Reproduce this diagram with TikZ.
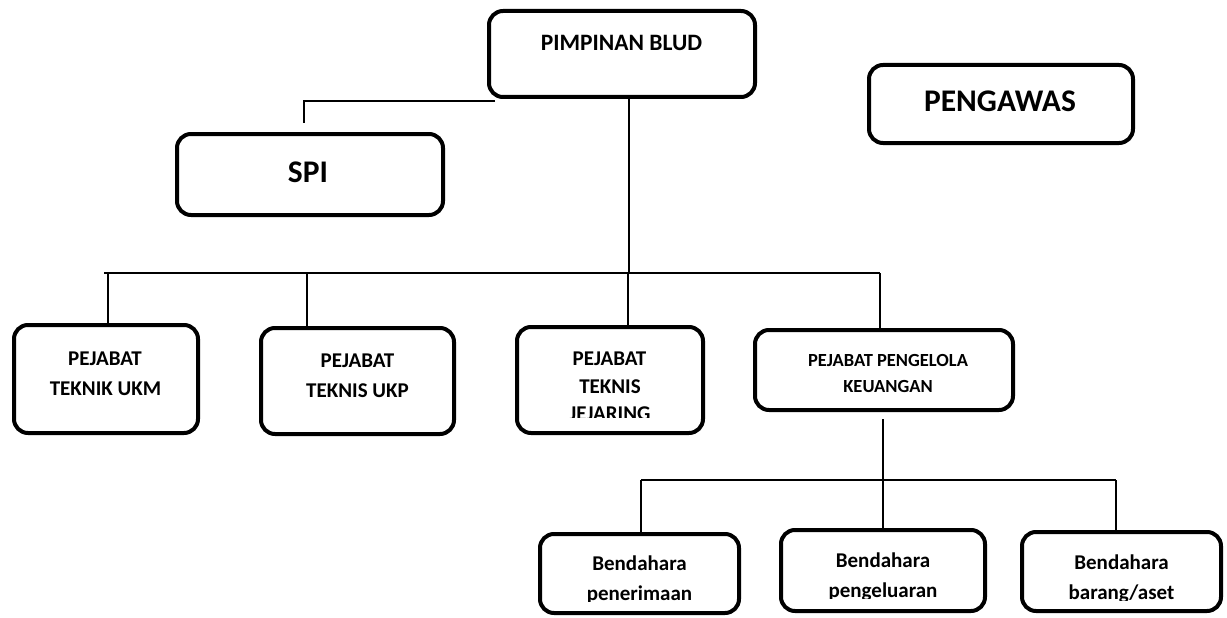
\documentclass[tikz,border=0pt]{standalone}
\usepackage{fontspec}
\setmainfont{Carlito}
\begin{document}
\begin{tikzpicture}[x=1pt,y=-1pt,
  box/.style={draw, line width=4pt, rounded corners=14pt, inner sep=0pt},
  lbl/.style={anchor=base, inner sep=0pt},
  fA/.style={font=\fontsize{23.5}{28}\selectfont\bfseries},
  fB/.style={font=\fontsize{31.5}{38}\selectfont\bfseries},
  fC/.style={font=\fontsize{21}{25}\selectfont\bfseries},
  fD/.style={font=\fontsize{18.5}{22}\selectfont\bfseries},
  conn/.style={line width=1.4pt}]
\useasboundingbox (0,0) rectangle (1227,618);
% boxes
\node[box, minimum width=266pt, minimum height=86pt] (pim) at (622,54) {};
\node[box, minimum width=266pt, minimum height=81pt] (spi) at (310,174.5) {};
\node[box, minimum width=264pt, minimum height=78pt] (pgw) at (1001,104) {};
\node[box, minimum width=184pt, minimum height=108pt] (ukm) at (106,379) {};
\node[box, minimum width=193pt, minimum height=106pt] (ukp) at (357.5,381) {};
\node[box, minimum width=186pt, minimum height=106pt] (jej) at (610,380) {};
\node[box, minimum width=258pt, minimum height=80pt] (pek) at (884,370) {};
\node[box, minimum width=199pt, minimum height=79pt] (b1) at (639.5,573.5) {};
\node[box, minimum width=204pt, minimum height=81pt] (b2) at (883,570.5) {};
\node[box, minimum width=199pt, minimum height=79pt] (b3) at (1121.5,571.5) {};
% labels
\node[lbl, fA] (pimT) at (621.5,51) {PIMPINAN BLUD};
\node[lbl, fB] (spiT) at (308,182) {SPI};
\node[lbl, fB] (pgwT) at (1000,111) {PENGAWAS};
\node[lbl, fC] (ukmT1) at (105,365.5) {PEJABAT};
\node[lbl, fC] (ukmT2) at (105.5,395.5) {TEKNIK UKM};
\node[lbl, fC] (ukpT1) at (357.5,367) {PEJABAT};
\node[lbl, fC] (ukpT2) at (357.5,397) {TEKNIS UKP};
\node[lbl, fC] (jejT1) at (609.5,365.5) {PEJABAT};
\node[lbl, fC] (jejT2) at (610,393) {TEKNIS};
\begin{scope}
\clip (520,400) rectangle (700,417);
\node[lbl, fC] (jejT3) at (610,420.5) {JEJARING};
\end{scope}
\node[lbl, fD] (pekT1) at (888,366) {PEJABAT PENGELOLA};
\node[lbl, fD] (pekT2) at (888,392) {KEUANGAN};
\node[lbl, fC] (b1T1) at (639.5,570) {Bendahara};
\node[lbl, fC] (b2T1) at (883,567) {Bendahara};
\node[lbl, fC] (b3T1) at (1121.5,569) {Bendahara};
\begin{scope}
\clip (545,575) rectangle (735,601);
\node[lbl, fC] (b1T2) at (639.5,600) {penerimaan};
\end{scope}
\begin{scope}
\clip (785,575) rectangle (980,598);
\node[lbl, fC] (b2T2) at (883,597) {pengeluaran};
\end{scope}
\begin{scope}
\clip (1025,575) rectangle (1218,600);
\node[lbl, fC] (b3T2) at (1121.5,599) {barang/aset};
\end{scope}
% connectors
\coordinate (spiEnd) at (304,123);
\coordinate (busL) at (104,273);
\coordinate (busR) at (880,273);
\coordinate (bus2L) at (641,480);
\coordinate (bus2R) at (1116,480);
\draw[conn] ([xshift=8pt,yshift=-2pt]pim.south west) -| (spiEnd);
\draw[conn] ([xshift=7pt]pim.south) -- ([xshift=7pt]pim.south |- busL);
\draw[conn] (busL) -- (busR);
\draw[conn] ([xshift=2pt]ukm.north |- busL) -- ([xshift=2pt]ukm.north);
\draw[conn] ([xshift=-50.5pt]ukp.north |- busL) -- ([xshift=-50.5pt]ukp.north);
\draw[conn] ([xshift=18pt]jej.north |- busL) -- ([xshift=18pt]jej.north);
\draw[conn] ([xshift=-4pt]pek.north |- busR) -- ([xshift=-4pt]pek.north);
\draw[conn] ([xshift=-1pt,yshift=-7pt]pek.south) -- ([xshift=-1pt]pek.south |- b2.north);
\draw[conn] (bus2L) -- (bus2R);
\draw[conn] (bus2L) -- (bus2L |- b1.north);
\draw[conn] (bus2R) -- (bus2R |- b3.north);
\end{tikzpicture}
\end{document}
